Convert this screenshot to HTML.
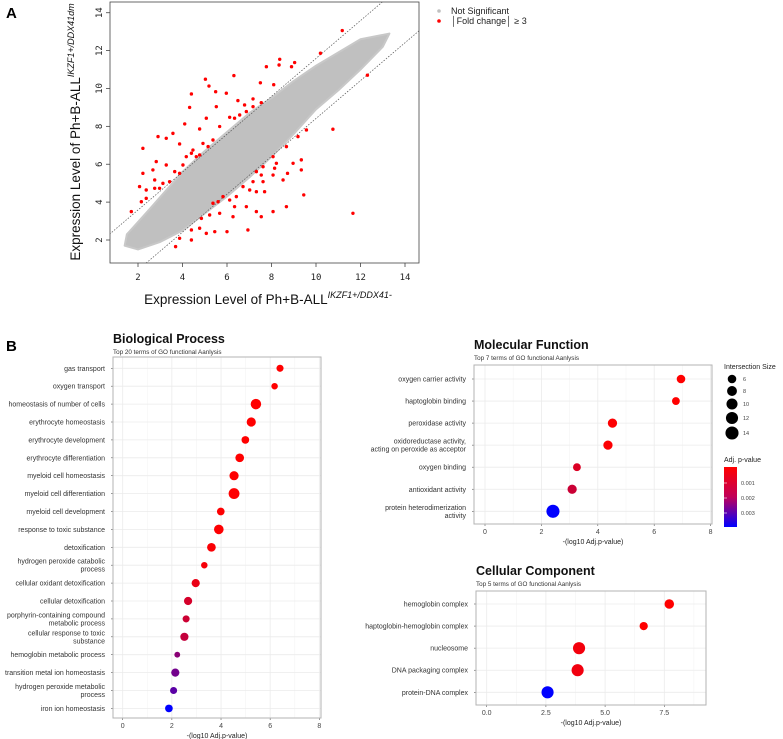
<!DOCTYPE html>
<html><head><meta charset="utf-8"><style>
html,body{margin:0;padding:0;background:#fff;}
svg{display:block;font-family:"Liberation Sans",sans-serif;}
</style></head><body>
<svg id="fig" width="783" height="739" viewBox="0 0 783 739" xmlns="http://www.w3.org/2000/svg">
<text x="6" y="18" font-size="15" font-weight="bold">A</text>
<text x="6" y="351" font-size="15" font-weight="bold">B</text>
<g id="pa"></g>
<g id="bp"></g>
<g id="mf"></g>
<g id="cc"></g>
<g id="leg"></g>
</svg>
<script>
// ---------- Panel A data ----------
const scatterTicks = [2,4,6,8,10,12,14];
const cloudEnvelope = [[1.4,1.7],[1.5,2.3],[2.5,3.6],[4,5.6],[5,6.7],[6,7.7],[7,8.7],[8,9.5],[9,10.4],[10,11.2],[11,11.9],[12,12.6],[13.3,12.9],[13,12.2],[12,11.0],[11,9.9],[10,8.9],[9,7.6],[8,6.4],[7,5.3],[6,4.3],[5,3.4],[4,2.5],[3,1.9],[2,1.5]];
const redX = [11.18,10.2,12.31,10.76,11.66,8.37,8.34,7.77,9.04,8.9,5.03,6.31,5.19,4.4,5.49,5.97,4.32,7.5,8.1,7.17,7.54,6.49,5.52,5.07,4.1,4.77,3.57,2.9,3.27,2.22,3.87,4.47,4.92,5.15,4.77,5.37,5.67,6.12,6.34,6.57,6.87,6.79,7.17,2.82,3.27,2.67,2.22,2.75,3.12,3.65,4.02,2.07,2.37,2.75,2.97,3.42,3.87,4.17,4.4,4.62,1.7,2.15,2.37,8.07,8.22,8.67,8.97,9.34,9.34,8.52,8.14,8.07,7.62,7.32,7.54,7.62,7.17,7.02,7.32,7.69,6.72,6.42,6.12,5.82,5.6,5.37,6.34,6.87,7.32,7.54,8.07,8.67,9.45,6.27,5.67,5.22,4.85,5.07,5.45,6.0,6.94,4.4,4.4,3.87,3.69,4.77,9.57,9.19,8.72];
const redY = [13.06,11.86,10.7,7.85,3.41,11.54,11.24,11.15,11.37,11.15,10.49,10.68,10.13,9.71,9.83,9.75,9.0,10.3,10.2,9.45,9.25,9.36,9.04,8.43,8.13,7.86,7.63,7.46,7.37,6.84,7.07,6.75,7.1,6.93,6.49,7.28,7.99,8.48,8.43,8.6,8.78,9.13,9.04,6.14,5.96,5.7,5.52,5.17,4.99,5.61,5.96,4.82,4.64,4.73,4.73,5.08,5.52,6.4,6.58,6.4,3.5,4.02,4.2,6.4,6.05,6.93,6.05,6.23,5.7,5.17,5.79,5.43,5.87,5.61,5.43,5.08,5.08,4.64,4.55,4.55,4.82,4.29,4.11,4.29,4.02,3.94,3.76,3.76,3.5,3.23,3.5,3.76,4.38,3.23,3.41,3.32,3.14,2.35,2.44,2.44,2.53,2.53,2.0,2.09,1.65,2.62,7.81,7.46,5.52];
const foldOffset = 1.585;

// ---------- Panel B data ----------
const bpTerms = ["gas transport","oxygen transport","homeostasis of number of cells","erythrocyte homeostasis","erythrocyte development","erythrocyte differentiation","myeloid cell homeostasis","myeloid cell differentiation","myeloid cell development","response to toxic substance","detoxification","hydrogen peroxide catabolic|process","cellular oxidant detoxification","cellular detoxification","porphyrin-containing compound|metabolic process","cellular response to toxic|substance","hemoglobin metabolic process","transition metal ion homeostasis","hydrogen peroxide metabolic|process","iron ion homeostasis"];
const bpValues = [6.4,6.18,5.42,5.23,4.99,4.76,4.53,4.53,3.99,3.91,3.61,3.32,2.97,2.66,2.58,2.51,2.22,2.14,2.07,1.88];
const bpSizes = [6,5,13,10,7,9,10,14,7,11,9,5,8,8,6,8,4,8,6,7];
const bpTicks = [0,2,4,6,8];

const mfTerms = ["oxygen carrier activity","haptoglobin binding","peroxidase activity","oxidoreductase activity,|acting on peroxide as acceptor","oxygen binding","antioxidant activity","protein heterodimerization|activity"];
const mfValues = [6.95,6.77,4.52,4.36,3.26,3.09,2.41];
const mfSizes = [6,5,7,7,5,7,14];
const mfTicks = [0,2,4,6,8];

const ccTerms = ["hemoglobin complex","haptoglobin-hemoglobin complex","nucleosome","DNA packaging complex","protein-DNA complex"];
const ccValues = [7.71,6.63,3.9,3.84,2.57];
const ccSizes = [8,6,13,13,13];
const ccTicks = [0,2.5,5,7.5];
const ccTickLabels = ["0.0","2.5","5.0","7.5"];

const sizeLegend = [6,8,10,12,14];
const pLegend = ["0.001","0.002","0.003"];

const NS="http://www.w3.org/2000/svg";
function mk(parent, tag, attrs, name){
  const e=document.createElementNS(NS,tag);
  for(const k in attrs) e.setAttribute(k,attrs[k]);
  
  
  parent.appendChild(e); return e;
}

// ---------- Panel A ----------
(function(){
  const g=document.getElementById('pa');
  const L=110,R=419,T=2,B=263;
  const sx=v=>93.5+v*22.25, sy=v=>240-(v-2)*18.94;
  const clip=mk(g,'clipPath',{id:'pac'},'clip');
  mk(clip,'rect',{x:L,y:T,width:R-L,height:B-T},'clip-rect');
  const inner=mk(g,'g',{'clip-path':'url(#pac)'},'plot-area');
  mk(inner,'polygon',{points:cloudEnvelope.map(p=>sx(p[0])+','+sy(p[1])).join(' '),fill:'#c0c0c0',stroke:'#c8c8c8','stroke-width':2,'stroke-linejoin':'round'},'not-significant-cloud');
  [foldOffset,-foldOffset].forEach((o,i)=>{
    mk(inner,'line',{x1:sx(0),y1:sy(0+o),x2:sx(16),y2:sy(16+o),stroke:'#555','stroke-width':0.7,'stroke-dasharray':'1.5,1.5'},i?'lower-threshold-line':'upper-threshold-line');
  });
  for(let i=0;i<redX.length;i++){
    const c=mk(inner,'circle',{cx:sx(redX[i]),cy:sy(redY[i]),r:1.7,fill:'#ff0000'},'significant-point');
  }
  mk(g,'rect',{x:L,y:T,width:R-L,height:B-T,fill:'none',stroke:'#444','stroke-width':0.8},'plot-border');
  scatterTicks.forEach(t=>{
    mk(g,'line',{x1:sx(t),y1:B,x2:sx(t),y2:B+4,stroke:'#444','stroke-width':0.8},'x-tick');
    const tx=mk(g,'text',{x:sx(t),y:B+17,'font-size':9,'text-anchor':'middle','font-family':'DejaVu Sans Mono, monospace',fill:'#222'},'x-tick-label');
    tx.textContent=t;
    if(sy(t)>=T&&sy(t)<=B){
      mk(g,'line',{x1:L-4,y1:sy(t),x2:L,y2:sy(t),stroke:'#444','stroke-width':0.8},'y-tick');
      const ty=mk(g,'text',{x:0,y:0,'font-size':9,'text-anchor':'middle','font-family':'DejaVu Sans Mono, monospace',fill:'#222',transform:`translate(${L-8},${sy(t)}) rotate(-90)`},'y-tick-label');
      ty.textContent=t;
    }
  });
  const xt=mk(g,'text',{x:268,y:304,'font-size':13.5,'text-anchor':'middle',fill:'#111'},'x-axis-title');
  xt.innerHTML='Expression Level of Ph+B-ALL<tspan font-size="9" font-style="italic" dy="-6">IKZF1+/DDX41-</tspan>';
  const yt=mk(g,'text',{x:0,y:0,'font-size':13.5,'text-anchor':'middle',fill:'#111',transform:'translate(80,132) rotate(-90)'},'y-axis-title');
  yt.innerHTML='Expression Level of Ph+B-ALL<tspan font-size="9" font-style="italic" dy="-6">IKZF1+/DDX41dm</tspan>';
  mk(g,'circle',{cx:439,cy:11,r:1.8,fill:'#c0c0c0'},'legend-marker-not-significant');
  mk(g,'circle',{cx:439,cy:21,r:1.8,fill:'#ff0000'},'legend-marker-fold-change');
  const l1=mk(g,'text',{x:451,y:14,'font-size':9,fill:'#222'},'legend-entry-not-significant'); l1.textContent='Not Significant';
  const l2=mk(g,'text',{x:451,y:24,'font-size':9,fill:'#222'},'legend-entry-fold-change'); l2.textContent='│Fold change│ ≥ 3';
})();

// ---------- Dot plots ----------
function pColor(v,vals){
  const pmax=Math.pow(10,-Math.min(...vals));
  const t=Math.min(1,Math.pow(10,-v)/pmax);
  return `rgb(${Math.round(255*(1-t))},0,${Math.round(255*t)})`;
}
function dotPlot(id,o){
  const g=document.getElementById(id);
  const sx=v=>o.x0+v*o.ux;
  const sy=i=>o.y0+i*o.dy;
  const tt=mk(g,'text',{x:o.L,y:o.titleY,'font-size':12.5,'font-weight':'bold',fill:'#111'},'plot-title'); tt.textContent=o.title;
  const st=mk(g,'text',{x:o.L,y:o.titleY+11,'font-size':6.3,fill:'#333'},'plot-subtitle'); st.textContent=o.sub;
  mk(g,'rect',{x:o.L,y:o.T,width:o.R-o.L,height:o.B-o.T,fill:'#fff'},'panel-bg');
  for(let k=0;k<o.ticks.length;k++){
    const v=o.ticks[k];
    mk(g,'line',{x1:sx(v),y1:o.T,x2:sx(v),y2:o.B,stroke:'#ebebeb','stroke-width':0.8},'x-grid-major');
    if(k<o.ticks.length-1){ const m=(v+o.ticks[k+1])/2; mk(g,'line',{x1:sx(m),y1:o.T,x2:sx(m),y2:o.B,stroke:'#f4f4f4','stroke-width':0.6},'x-grid-minor'); }
    const lab=mk(g,'text',{x:sx(v),y:o.B+10,'font-size':7,'text-anchor':'middle',fill:'#444'},'x-tick-label');
    lab.textContent=o.tickLabels?o.tickLabels[k]:v;
    mk(g,'line',{x1:sx(v),y1:o.B,x2:sx(v),y2:o.B+2,stroke:'#555','stroke-width':0.6},'x-tick');
  }
  const last=o.ticks[o.ticks.length-1];
  if(sx(last+(o.ticks[1]-o.ticks[0])/2)<o.R) mk(g,'line',{x1:sx(last+(o.ticks[1]-o.ticks[0])/2),y1:o.T,x2:sx(last+(o.ticks[1]-o.ticks[0])/2),y2:o.B,stroke:'#f4f4f4','stroke-width':0.6},'x-grid-minor');
  o.terms.forEach((term,i)=>{
    const y=sy(i);
    mk(g,'line',{x1:o.L,y1:y,x2:o.R,y2:y,stroke:'#ebebeb','stroke-width':0.8},'y-grid');
    mk(g,'line',{x1:o.L-2,y1:y,x2:o.L,y2:y,stroke:'#555','stroke-width':0.6},'y-tick');
    const parts=term.split('|');
    parts.forEach((p,j)=>{
      const t=mk(g,'text',{x:o.L-8,y:y+2.5+(j-(parts.length-1)/2)*8,'font-size':7,'text-anchor':'end',fill:'#333'},'term-label');
      t.textContent=p;
    });
  });
  mk(g,'rect',{x:o.L,y:o.T,width:o.R-o.L,height:o.B-o.T,fill:'none',stroke:'#b3b3b3','stroke-width':1},'panel-border');
  o.vals.forEach((v,i)=>{
    const c=mk(g,'circle',{cx:sx(v),cy:sy(i),r:o.rs*Math.sqrt(o.sizes[i]),fill:pColor(v,o.vals)},'term-dot');
  });
  const xl=mk(g,'text',{x:(o.L+o.R)/2,y:o.B+20,'font-size':7,'text-anchor':'middle',fill:'#222'},'x-axis-title'); xl.textContent='-(log10 Adj.p-value)';
}
dotPlot('bp',{title:'Biological Process',sub:'Top 20 terms of GO functional Aanlysis',titleY:343,L:113,R:321,T:357,B:718,x0:122.7,ux:24.58,y0:368.3,dy:17.9,terms:bpTerms,vals:bpValues,sizes:bpSizes,ticks:bpTicks,rs:1.45});
dotPlot('mf',{title:'Molecular Function',sub:'Top 7 terms of GO functional Aanlysis',titleY:349,L:474,R:712,T:365,B:524,x0:485,ux:28.2,y0:379,dy:22.05,terms:mfTerms,vals:mfValues,sizes:mfSizes,ticks:mfTicks,rs:1.75});
dotPlot('cc',{title:'Cellular Component',sub:'Top 5 terms of GO functional Aanlysis',titleY:575,L:476,R:706,T:591,B:705,x0:486.7,ux:23.68,y0:604,dy:22.08,terms:ccTerms,vals:ccValues,sizes:ccSizes,ticks:ccTicks,tickLabels:ccTickLabels,rs:1.68});

// ---------- Legends ----------
(function(){
  const g=document.getElementById('leg');
  const t1=mk(g,'text',{x:724,y:369,'font-size':7,fill:'#222'},'size-legend-title'); t1.textContent='Intersection Size';
  const ys=[379,391,404,418,433];
  sizeLegend.forEach((s,i)=>{
    mk(g,'circle',{cx:732,cy:ys[i],r:1.75*Math.sqrt(s),fill:'#000'},'size-legend-dot');
    const t=mk(g,'text',{x:743,y:ys[i]+2,'font-size':5.5,fill:'#444'},'size-legend-label'); t.textContent=s;
  });
  const t2=mk(g,'text',{x:724,y:462,'font-size':7,fill:'#222'},'color-legend-title'); t2.textContent='Adj. p-value';
  const defs=mk(g,'defs',{},'defs');
  const lg=mk(defs,'linearGradient',{id:'pg',x1:0,y1:0,x2:0,y2:1},'gradient');
  mk(lg,'stop',{offset:'0','stop-color':'#ff0000'},'stop'); mk(lg,'stop',{offset:'0.5','stop-color':'#c0005a'},'stop'); mk(lg,'stop',{offset:'1','stop-color':'#0000ff'},'stop');
  mk(g,'rect',{x:724,y:467,width:13,height:60,fill:'url(#pg)'},'color-bar');
  [483,498,513].forEach((y,i)=>{
    mk(g,'line',{x1:724,y1:y,x2:727,y2:y,stroke:'#fff','stroke-width':0.6},'color-bar-tick');
    const t=mk(g,'text',{x:741,y:y+2,'font-size':5.5,fill:'#444'},'color-legend-label'); t.textContent=pLegend[i];
  });
})();
</script>
</body></html>
